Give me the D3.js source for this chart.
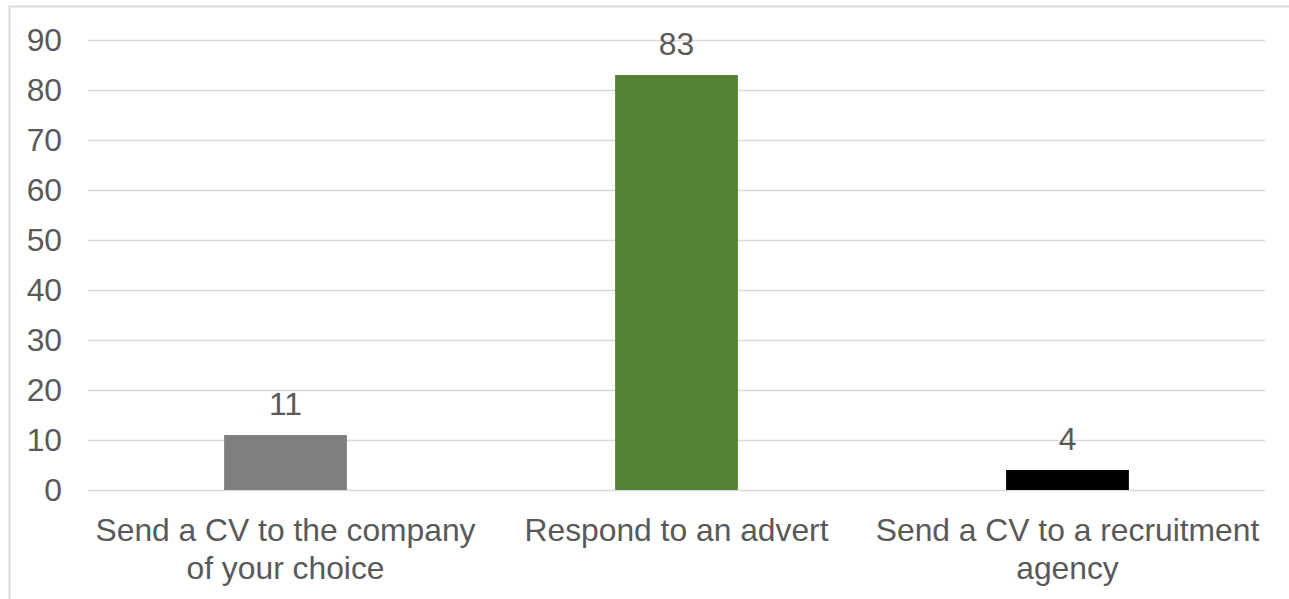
<!DOCTYPE html>
<html>
<head>
<meta charset="utf-8">
<script src="https://cdn.jsdelivr.net/npm/d3@7/dist/d3.min.js"></script>
<style>
  html, body { margin: 0; padding: 0; background: #ffffff; }
  svg { display: block; }
  text { font-family: "Liberation Sans", Arial, sans-serif; fill: #595959; }
</style>
</head>
<body>
<svg id="chart" width="1289" height="599"></svg>
<script>
// Job search methods: share of respondents (%)
const categories = [
  "Send a CV to the company of your choice",
  "Respond to an advert",
  "Send a CV to a recruitment agency"
];
const categoryLines = [
  ["Send a CV to the company", "of your choice"],
  ["Respond to an advert"],
  ["Send a CV to a recruitment", "agency"]
];
const values = [11, 83, 4];
const barColors = ["#7f7f7f", "#548235", "#000000"];
const yTicks = [0, 10, 20, 30, 40, 50, 60, 70, 80, 90];

const width = 1289, height = 599;
const plot = { left: 88, right: 1265, top: 40, bottom: 490 };
const fontSize = 31.8;

const svg = d3.select("#chart");

// chart frame
svg.append("rect")
  .attr("x", 9.5).attr("y", 6.5)
  .attr("width", width + 10).attr("height", height + 10)
  .attr("fill", "none")
  .attr("stroke", "#d9d9d9")
  .attr("stroke-width", 2);

const x = d3.scaleBand()
  .domain(categories)
  .range([plot.left + 2, plot.right - 2])
  .paddingInner(0.686)
  .paddingOuter(0.343);

const y = d3.scaleLinear()
  .domain([0, 90])
  .range([plot.bottom, plot.top]);

// gridlines
svg.append("g")
  .selectAll("line")
  .data(yTicks)
  .join("line")
  .attr("x1", plot.left)
  .attr("x2", plot.right)
  .attr("y1", d => Math.round(y(d)) + 0.5)
  .attr("y2", d => Math.round(y(d)) + 0.5)
  .attr("stroke", "#d9d9d9")
  .attr("stroke-width", 1.5);

// y axis labels
const yAxis = d3.axisLeft(y).tickValues(yTicks).tickSize(0).tickPadding(26);
const gy = svg.append("g")
  .attr("transform", `translate(${plot.left},0)`)
  .call(yAxis);
gy.select(".domain").remove();
gy.selectAll("text")
  .style("font-size", fontSize + "px")
  .attr("fill", "#595959")
  .style("font-family", "'Liberation Sans', Arial, sans-serif");

// bars
svg.append("g")
  .selectAll("rect")
  .data(values)
  .join("rect")
  .attr("x", (d, i) => x(categories[i]))
  .attr("width", x.bandwidth())
  .attr("y", d => y(d))
  .attr("height", d => y(0) - y(d))
  .attr("fill", (d, i) => barColors[i]);

// value labels
svg.append("g")
  .selectAll("text")
  .data(values)
  .join("text")
  .attr("x", (d, i) => x(categories[i]) + x.bandwidth() / 2)
  .attr("y", d => y(d) - 20)
  .attr("text-anchor", "middle")
  .style("font-size", fontSize + "px")
  .text(d => d);

// category labels
const cat = svg.append("g")
  .selectAll("text")
  .data(categoryLines)
  .join("text")
  .attr("text-anchor", "middle")
  .style("font-size", fontSize + "px")
  .attr("transform", (d, i) => `translate(${x(categories[i]) + x.bandwidth() / 2},541)`);
cat.selectAll("tspan")
  .data(d => d)
  .join("tspan")
  .attr("x", 0)
  .attr("y", (d, j) => j * 38)
  .text(d => d);
</script>
</body>
</html>
